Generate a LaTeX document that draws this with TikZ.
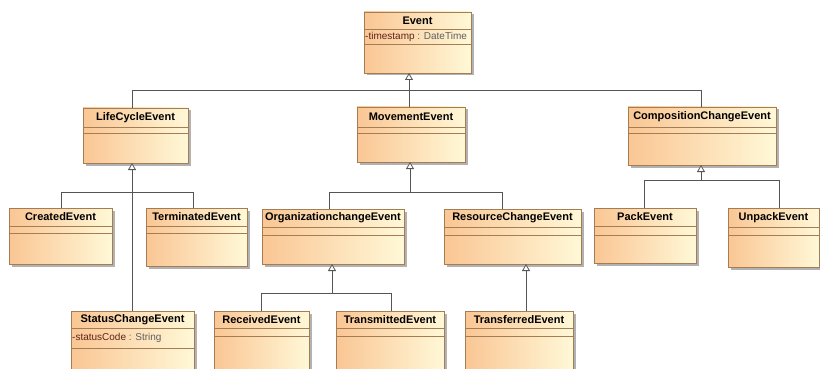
\documentclass[tikz,border=0pt]{standalone}
\usepackage{fontspec}
\setmainfont{Liberation Sans}
\usetikzlibrary{calc,arrows.meta}

\definecolor{bordc}{RGB}{165,125,85}
\definecolor{fillA}{RGB}{250,198,148}
\definecolor{fillB}{RGB}{255,248,215}
\definecolor{shadc}{RGB}{178,178,178}
\definecolor{linec}{RGB}{85,85,85}
\definecolor{attrc}{RGB}{95,35,25}
\definecolor{typec}{RGB}{95,95,95}

\tikzset{
  classbox/.style={draw=bordc, line width=0.8pt, left color=fillA, right color=fillB,
                   inner sep=0pt, outer sep=0pt},
  sepline/.style={draw=bordc, line width=0.8pt},
  shadowbox/.style={fill=shadc},
  classname/.style={font=\fontsize{11}{13}\selectfont\bfseries, text=black, inner sep=0pt},
  attrtext/.style={font=\fontsize{10}{12}\selectfont, inner sep=0pt, anchor=west},
  conn/.style={draw=linec, line width=0.8pt},
  inherit/.style={conn, -{Triangle[width=8pt,length=7pt,fill=white]}},
}

% UML class: name, left, top, width, height, first separator, second separator, title, attribute
\newcommand\umlclass[9]{%
  \fill[shadowbox] (#2+2.5,#3+2.5) rectangle ++(#4,#5);
  \node[classbox, minimum width=#4pt, minimum height=#5pt, anchor=north west] (#1) at (#2,#3) {};
  \draw[sepline] ($(#1.north west)+(0,#6)$) -- ($(#1.north east)+(0,#6)$);
  \draw[sepline] ($(#1.north west)+(0,#7)$) -- ($(#1.north east)+(0,#7)$);
  \node[classname] at ($(#1.north)+(0,{#6/2})$) {#8};
  \node[attrtext] at ($(#1.north west)+(1,{(#6+#7)/2})$) {#9};
}
\newcommand\attr[2]{{\color{attrc}#1} {\color{typec}: #2}}

\begin{document}
\begin{tikzpicture}[x=1pt,y=-1pt]
  \fill[white] (0,0) rectangle (820,369);
  \useasboundingbox (0,0) rectangle (820,369);

  \umlclass{event}{364}{12}{107}{61}{17}{32}{Event}{\attr{-timestamp}{DateTime}}
  \umlclass{lifecycle}{83}{108}{105}{55}{19}{25}{LifeCycleEvent}{}
  \umlclass{movement}{357}{107}{108}{55}{20}{26}{MovementEvent}{}
  \umlclass{composition}{628}{107}{148}{58}{20}{26}{CompositionChangeEvent}{}
  \umlclass{created}{9}{208}{103}{56}{18}{25}{CreatedEvent}{}
  \umlclass{terminated}{146}{208}{101}{58}{18}{25}{TerminatedEvent}{}
  \umlclass{organization}{262}{209}{142}{55}{18}{26}{OrganizationchangeEvent}{}
  \umlclass{resource}{444}{209}{137}{55}{18}{26}{ResourceChangeEvent}{}
  \umlclass{pack}{594}{208}{102}{55}{18}{27}{PackEvent}{}
  \umlclass{unpack}{728}{208}{91}{59}{19}{27}{UnpackEvent}{}
  \umlclass{status}{71}{311}{123}{70}{17}{37}{StatusChangeEvent}{\attr{-statusCode}{String}}
  \umlclass{received}{214}{311}{95}{70}{17}{25}{ReceivedEvent}{}
  \umlclass{transmitted}{336}{311}{108}{70}{17}{25}{TransmittedEvent}{}
  \umlclass{transferred}{465}{311}{108}{70}{17}{25}{TransferredEvent}{}

  % junction points of the inheritance trees
  \coordinate (top) at (409,90);
  \coordinate (busA) at (132,90);
  \coordinate (busB) at (701,90);
  \coordinate (lcA) at (132,192);
  \coordinate (lcL) at (61,192);
  \coordinate (lcR) at (193,192);
  \coordinate (mvA) at (410,192);
  \coordinate (mvL) at (329,192);
  \coordinate (mvR) at (502,192);
  \coordinate (cpA) at (701,180);
  \coordinate (cpL) at (644,180);
  \coordinate (cpR) at (779,180);
  \coordinate (orA) at (332,293);
  \coordinate (orL) at (261,293);
  \coordinate (orR) at (391,293);
  \coordinate (rsA) at (526,293);

  % Event hierarchy
  \draw[inherit] (top) -- (event.south -| top);
  \draw[conn] (lifecycle.north -| busA) -- (busA) -- (busB) -- (composition.north -| busB);
  \draw[conn] (top) -- (movement.north -| top);

  % LifeCycleEvent
  \draw[inherit] (status.north -| lcA) -- (lifecycle.south -| lcA);
  \draw[conn] (created.north -| lcL) -- (lcL) -- (lcR) -- (terminated.north -| lcR);

  % MovementEvent
  \draw[inherit] (mvA) -- (movement.south -| mvA);
  \draw[conn] (organization.north -| mvL) -- (mvL) -- (mvR) -- (resource.north -| mvR);

  % CompositionChangeEvent
  \draw[inherit] (cpA) -- (composition.south -| cpA);
  \draw[conn] (pack.north -| cpL) -- (cpL) -- (cpR) -- (unpack.north -| cpR);

  % OrganizationchangeEvent
  \draw[inherit] (orA) -- (organization.south -| orA);
  \draw[conn] (received.north -| orL) -- (orL) -- (orR) -- (transmitted.north -| orR);

  % ResourceChangeEvent
  \draw[inherit] (transferred.north -| rsA) -- (resource.south -| rsA);
\end{tikzpicture}
\end{document}
